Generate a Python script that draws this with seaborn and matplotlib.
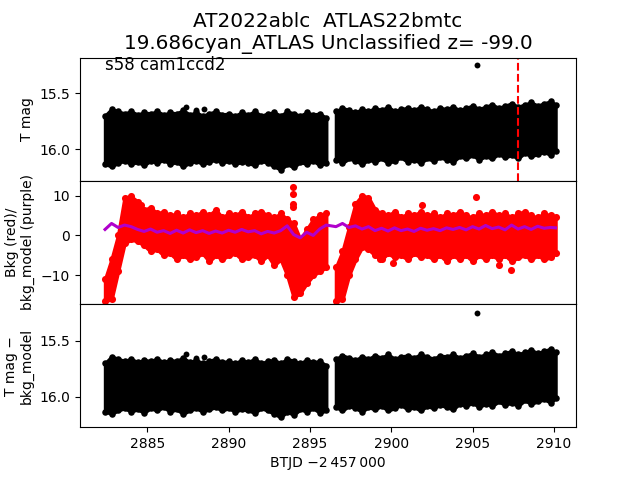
import matplotlib
matplotlib.use("Agg")
import matplotlib.pyplot as plt
import seaborn as sns
import numpy as np
import pandas as pd

# ---- data ----
t_seg1 = [2882.4, 2882.8, 2883.2, 2883.6, 2884.0, 2884.4, 2884.8, 2885.2, 2885.6, 2886.0,
          2886.4, 2886.8, 2887.2, 2887.6, 2888.0, 2888.4, 2888.8, 2889.2, 2889.6, 2890.0,
          2890.4, 2890.8, 2891.2, 2891.6, 2892.0, 2892.4, 2892.8, 2893.2, 2893.6, 2894.0,
          2894.4, 2894.8, 2895.2, 2895.6, 2896.0]
t_seg2 = [2896.6, 2897.0, 2897.4, 2897.8, 2898.2, 2898.6, 2899.0, 2899.4, 2899.8, 2900.2,
          2900.6, 2901.0, 2901.4, 2901.8, 2902.2, 2902.6, 2903.0, 2903.4, 2903.8, 2904.2,
          2904.6, 2905.0, 2905.4, 2905.8, 2906.2, 2906.6, 2907.0, 2907.4, 2907.8, 2908.2,
          2908.6, 2909.0, 2909.4, 2909.8, 2910.1]

# T mag band (bright edge / faint edge)
mag_bright1 = [15.70, 15.64, 15.66, 15.68, 15.66, 15.69, 15.67, 15.68, 15.66, 15.69,
               15.67, 15.68, 15.65, 15.69, 15.67, 15.70, 15.68, 15.66, 15.69, 15.68,
               15.70, 15.67, 15.69, 15.66, 15.70, 15.68, 15.67, 15.70, 15.66, 15.68,
               15.70, 15.67, 15.69, 15.68, 15.72]
mag_faint1 = [16.13, 16.15, 16.12, 16.10, 16.13, 16.11, 16.14, 16.10, 16.12, 16.09,
              16.13, 16.11, 16.15, 16.12, 16.10, 16.13, 16.11, 16.09, 16.12, 16.10,
              16.13, 16.11, 16.12, 16.14, 16.10, 16.12, 16.15, 16.18, 16.13, 16.16,
              16.11, 16.13, 16.10, 16.14, 16.12]
mag_bright2 = [15.66, 15.63, 15.65, 15.67, 15.64, 15.66, 15.63, 15.65, 15.62, 15.66,
               15.64, 15.63, 15.65, 15.62, 15.64, 15.66, 15.63, 15.64, 15.62, 15.65,
               15.63, 15.61, 15.64, 15.62, 15.60, 15.63, 15.61, 15.59, 15.62, 15.60,
               15.58, 15.61, 15.59, 15.57, 15.60]
mag_faint2 = [16.09, 16.12, 16.08, 16.10, 16.13, 16.09, 16.11, 16.08, 16.12, 16.10,
              16.07, 16.11, 16.09, 16.12, 16.08, 16.10, 16.07, 16.09, 16.11, 16.06,
              16.08, 16.05, 16.09, 16.06, 16.08, 16.04, 16.07, 16.05, 16.08, 16.03,
              16.06, 16.04, 16.02, 16.05, 16.01]
mag_out_t = [2905.3, 2887.4, 2888.0, 2888.5]
mag_out_v = [15.25, 15.62, 15.65, 15.64]

# background (red) band: low / high edges
bkg_low1 = [-16.5, -16, -9, -2, -1, -1.5, -2.5, -4, -3.5, -5,
            -4.5, -6, -5, -6, -5.5, -4.5, -6.5, -5, -6, -5,
            -4.5, -6, -5.5, -5, -6.5, -5, -7.5, -6, -10, -15.5,
            -14.5, -12, -10, -9, -8]
bkg_high1 = [-11, -6, 0, 9.5, 9.8, 8.5, 6.5, 7, 5.5, 6,
             5, 5.5, 4.5, 5.5, 5, 6, 5, 6.5, 4.5, 5.5,
             5, 6, 4.5, 5.5, 6, 5, 4.5, 5.5, 4, 3,
             -1, 1.5, 4, 5, 5.5]
bkg_low2 = [-16.5, -16, -10, -6, -3, -3.5, -5, -6, -4.5, -5.5,
            -5, -6, -4.5, -5.5, -5, -6, -5, -6.5, -5, -6,
            -5, -6.5, -5, -6, -5, -6, -5, -6.5, -5.5, -5,
            -6, -5, -6, -5.5, -4.5]
bkg_high2 = [-8, -4, 2, 8, 10, 9.5, 6.5, 5.5, 5, 6,
             4.5, 5.5, 5, 6, 5, 5.5, 4.5, 5.5, 5, 6,
             5, 4.5, 5.5, 5, 6, 5, 5.5, 4.5, 5.5, 6,
             5, 4.5, 5.5, 5, 4.5]
bkg_out_t = [2893.95, 2893.95, 2893.95, 2893.95, 2905.2, 2901.9, 2907.35, 2906.6, 2899.3, 2900.1, 2884.6]
bkg_out_v = [12.1, 10.4, 7.8, 7.1, 9.6, 7.6, -8.6, -7.5, -6.0, -6.8, 7.6]

# background model (purple)
model1 = [1.5, 3.0, 2.0, 2.6, 2.2, 1.5, 1.0, 1.6, 0.8, 1.2,
          0.5, 1.3, 0.6, 1.4, 0.7, 1.2, 0.5, 1.1, 0.6, 1.3,
          0.8, 1.5, 0.9, 1.2, 0.4, 1.0, 0.6, 1.2, 2.4, 0.2,
          -0.6, 0.8, 0.0, 1.6, 2.6]
model2 = [2.2, 3.0, 2.0, 2.4, 1.6, 2.2, 1.2, 1.8, 1.1, 1.9,
          1.2, 1.6, 1.0, 1.8, 1.3, 1.7, 1.2, 1.9, 1.5, 2.0,
          1.4, 2.2, 1.6, 2.5, 1.7, 2.1, 1.4, 2.6, 1.6, 2.2,
          1.5, 2.3, 1.8, 2.0, 1.9]

discovery_t = 2907.8

# ---- build tables ----
t_all = t_seg1 + t_seg2
mag = pd.DataFrame({"t": t_all, "bright": mag_bright1 + mag_bright2, "faint": mag_faint1 + mag_faint2})
bkg = pd.DataFrame({"t": t_all, "low": bkg_low1 + bkg_low2, "high": bkg_high1 + bkg_high2,
                    "model": model1 + model2})

fig, axes = plt.subplots(3, 1, sharex=True, figsize=(6.4, 4.8), dpi=100)
plt.subplots_adjust(hspace=0)

def band(ax, t, lo, hi, color, s=22):
    ax.fill_between(t, lo, hi, color=color, lw=2.5, edgecolor=color)
    edge = pd.DataFrame({"t": list(t) + list(t), "v": list(lo) + list(hi)})
    sns.scatterplot(data=edge, x="t", y="v", color=color, s=s, linewidth=0, ax=ax)

segs = (slice(0, 35), slice(35, 70))

# top panel
ax = axes[0]
for seg in segs:
    d = mag.iloc[seg]
    band(ax, d["t"], d["faint"], d["bright"], "black")
sns.scatterplot(x=mag_out_t, y=mag_out_v, color="black", s=18, linewidth=0, ax=ax)
ax.axvline(discovery_t, color="red", ls="--", lw=1.5)
ax.set_ylim(16.28, 15.18)
ax.set_yticks([15.5, 16.0])
ax.set_ylabel("T mag")
ax.text(0.05, 0.9, "s58 cam1ccd2", transform=ax.transAxes, fontsize=12)
ax.set_title("AT2022ablc  ATLAS22bmtc\n19.686cyan_ATLAS Unclassified z= -99.0", fontsize=14.4)

# middle panel
ax = axes[1]
for seg in segs:
    d = bkg.iloc[seg]
    band(ax, d["t"], d["low"], d["high"], "red", s=26)
sns.scatterplot(x=bkg_out_t, y=bkg_out_v, color="red", s=26, linewidth=0, ax=ax)
sns.lineplot(data=bkg, x="t", y="model", color="#b000cc", lw=2.2, ax=ax)
ax.set_ylim(-17.2, 13.7)
ax.set_yticks([-10, 0, 10])
ax.set_ylabel("Bkg (red)/\nbkg_model (purple)")

# bottom panel
ax = axes[2]
for seg in segs:
    d = mag.iloc[seg]
    band(ax, d["t"], d["faint"], d["bright"], "black")
sns.scatterplot(x=mag_out_t, y=mag_out_v, color="black", s=18, linewidth=0, ax=ax)
ax.set_ylim(16.27, 15.17)
ax.set_yticks([15.5, 16.0])
ax.set_ylabel("T mag \u2212\nbkg_model")

for a in axes[:2]:
    a.tick_params(axis="x", bottom=False, labelbottom=False)
    a.set_xlabel("")
axes[2].set_xlim(2880.86, 2911.36)
axes[2].set_xticks([2885, 2890, 2895, 2900, 2905, 2910])
axes[2].set_xlabel("BTJD \u22122\u2009457\u2009000")

fig.savefig("out.png", dpi=100)
